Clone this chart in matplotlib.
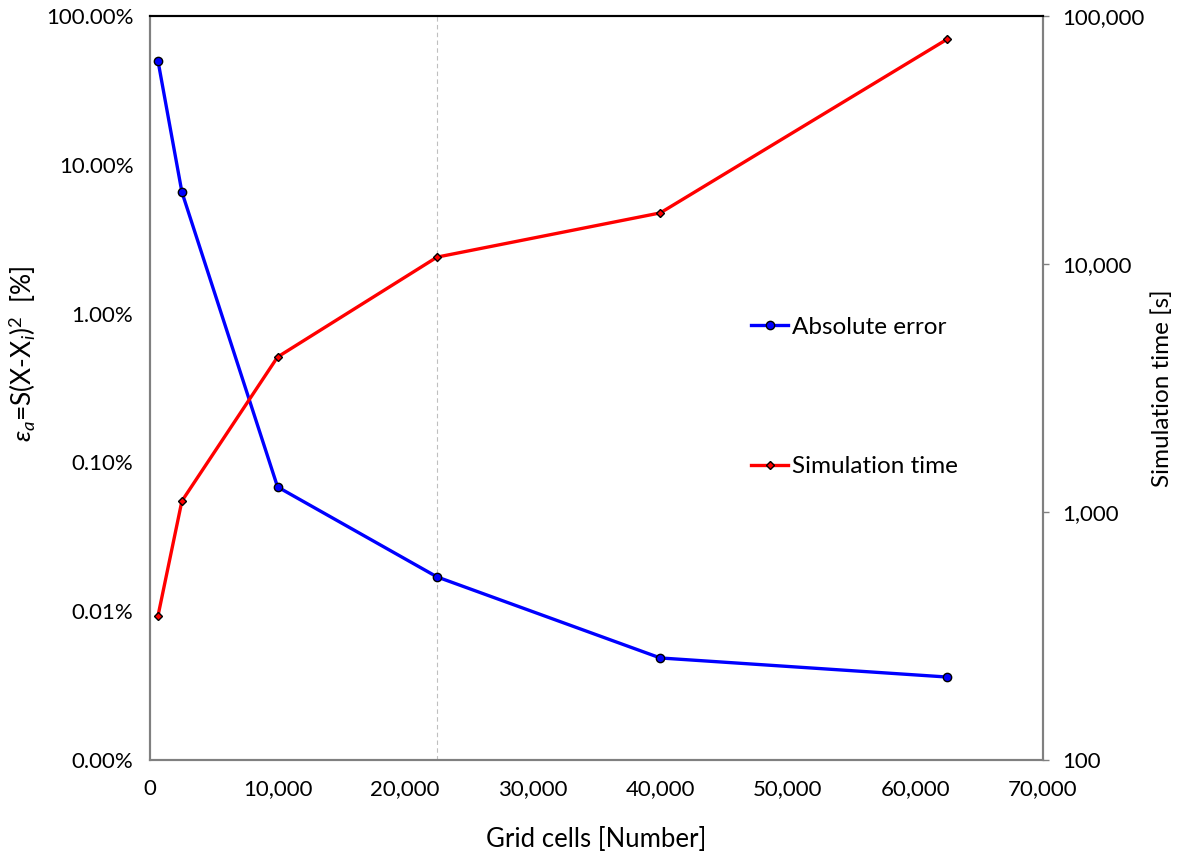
import matplotlib
matplotlib.use("Agg")
import matplotlib.pyplot as plt
from matplotlib.ticker import FuncFormatter, FixedLocator, NullLocator

plt.rcParams['font.family'] = ['Lato', 'DejaVu Sans']
plt.rcParams['mathtext.fontset'] = 'custom'
plt.rcParams['mathtext.rm'] = 'Lato'
plt.rcParams['mathtext.it'] = 'Lato:italic'

# Mesh sizes (25x25 ... 250x250) and results
grid_cells = [625, 2500, 10000, 22500, 40000, 62500]
abs_error_pct = [50.0, 6.56, 0.0684, 0.0170, 0.00485, 0.00361]
sim_time_s = [381, 1107, 4217, 10660, 16070, 80700]
selected_mesh = 22500

err_ticks = [0.001, 0.01, 0.1, 1, 10, 100]
time_ticks = [100, 1000, 10000, 100000]
x_ticks = [0, 10000, 20000, 30000, 40000, 50000, 60000, 70000]

fig = plt.figure(figsize=(11.79, 8.58), dpi=100)
ax = fig.add_axes([150/1179, 1 - 760/858, 893/1179, 744/858])
ax2 = ax.twinx()

l1, = ax.plot(grid_cells, abs_error_pct, color='#0000FF', lw=2.4,
              marker='o', ms=6, mfc='#0000FF', mec='black', mew=1.0,
              label='Absolute error', zorder=3)
l2, = ax2.plot(grid_cells, sim_time_s, color='#FF0000', lw=2.4,
               marker='D', ms=4.5, mfc='#FF0000', mec='black', mew=1.0,
               label='Simulation time', zorder=3)

ax.axvline(selected_mesh, color='#BFBFBF', lw=0.8, ls=(0, (4, 3)), zorder=1)

ax.set_xlim(0, 70000)
ax.set_yscale('log')
ax.set_ylim(0.001, 100)
ax2.set_yscale('log')
ax2.set_ylim(100, 100000)

ax.xaxis.set_major_locator(FixedLocator(x_ticks))
ax.xaxis.set_major_formatter(FuncFormatter(lambda v, p: f"{v:,.0f}"))
ax.yaxis.set_major_locator(FixedLocator(err_ticks))
ax.yaxis.set_minor_locator(NullLocator())
ax.yaxis.set_major_formatter(FuncFormatter(lambda v, p: f"{v:.2f}%"))
ax2.yaxis.set_major_locator(FixedLocator(time_ticks))
ax2.yaxis.set_minor_locator(NullLocator())
ax2.yaxis.set_major_formatter(FuncFormatter(lambda v, p: f"{v:,.0f}"))

ax.tick_params(axis='y', length=0, pad=12, labelsize=16)
ax.tick_params(axis='x', length=0, pad=14, labelsize=16)
ax2.tick_params(axis='y', length=4, width=1, color='#808080', pad=10, labelsize=16)

for a in (ax, ax2):
    for side in ('left', 'bottom', 'right'):
        a.spines[side].set_color('#808080')
        a.spines[side].set_linewidth(1.5)
    a.spines['top'].set_color('black')
    a.spines['top'].set_linewidth(1.5)

ax.set_xlabel('Grid cells [Number]', fontsize=18.5, labelpad=20)
ax.set_ylabel(r'$\varepsilon_a$=S(X-X$_i$)$^2$  [%]', fontsize=19)
ax.yaxis.set_label_coords(-0.1254, 0.546)
ax2.set_ylabel('Simulation time [s]', fontsize=17.5, labelpad=5)

ax2.legend([l1, l2], ['Absolute error', 'Simulation time'],
           loc='upper left', bbox_to_anchor=(0.649, 0.625),
           frameon=False, fontsize=17.5, labelspacing=4.86,
           handlelength=1.5, handletextpad=0.15)

fig.savefig('out.png', dpi=100)
